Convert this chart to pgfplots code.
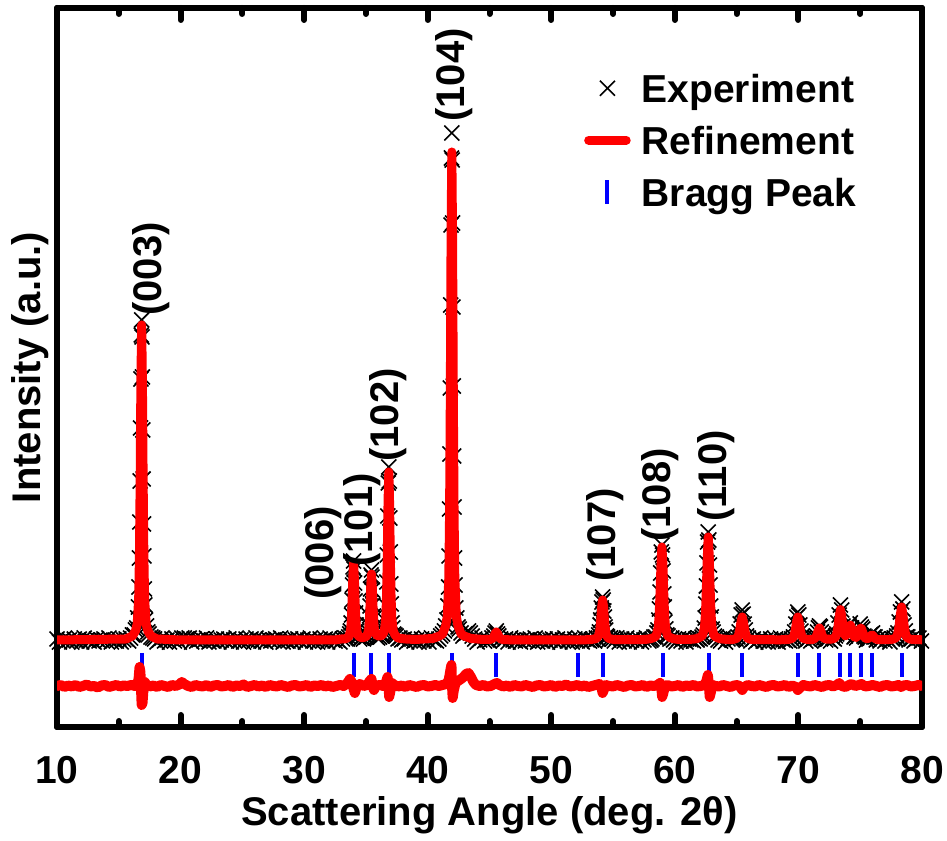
\documentclass[border=0pt]{standalone}
\usepackage{pgfplots}
\pgfplotsset{compat=1.18}
\usepackage{fontspec}
\setmainfont{Liberation Sans}
\newcommand{\lblfont}{\fontsize{20}{24}\selectfont\bfseries}
\newcommand{\tckfont}{\fontsize{19.5}{23}\selectfont\bfseries}
\pgfplotsset{
  markleg/.style={legend image code/.code={\draw[mark repeat=2,mark phase=2,##1] plot coordinates {(0cm,0cm) (0.33cm,0cm) (0.66cm,0cm)};}},
  lineleg/.style={legend image code/.code={\draw[##1] (0cm,0cm) -- (0.66cm,0cm);}},
}
\begin{document}
\begin{tikzpicture}
\begin{axis}[
  scale only axis,
  width=432.5pt, height=359.5pt,
  xmin=10, xmax=80, ymin=0, ymax=719,
  clip mode=individual,
  axis line style={line width=3pt, line cap=round, line join=round},
  xtick={10,20,...,80}, minor x tick num=1,
  ytick=\empty,
  tick align=inside, xtick pos=both,
  major tick length=6pt, minor tick length=3pt,
  every tick/.style={black, line width=3pt, line cap=round},
  /pgf/number format/assume math mode=true,
  xticklabel style={font=\tckfont, yshift=-11pt},
  xlabel={Scattering Angle (deg. 2θ)},
  ylabel={Intensity (a.u.)},
  xlabel style={font=\lblfont, at={(axis description cs:0.5,-0.1224)}, anchor=center},
  ylabel style={font=\lblfont, at={(axis description cs:-0.031,0.5)}, anchor=center},
  legend cell align=left,
  legend style={at={(0.928,0.925)}, anchor=north east, draw=none, fill=none,
    inner sep=0pt, row sep=0pt, font=\tckfont, nodes={inner xsep=1.5pt, inner ysep=4.2pt},
    /tikz/every odd column/.append style={column sep=4pt}},
]
% experiment
\addplot[only marks, mark=x, mark size=5.3pt, black, line width=0.8pt, markleg]
coordinates {
(10.0,88)(10.2,85)(10.4,87)(10.6,89)(10.8,86)(11.0,87)(11.2,85)(11.4,88)(11.6,86)(11.8,88)
(12.0,85)(12.2,89)(12.4,87)(12.6,86)(12.8,87)(13.0,85)(13.2,88)(13.4,86)(13.6,87)(13.8,88)
(14.0,86)(14.2,89)(14.4,85)(14.6,87)(14.8,86)(15.0,88)(15.2,85)(15.4,87)(15.6,88)(15.8,86)
(15.95,89)(16.10,92)(16.25,92)(16.35,97)(16.45,99)(16.53,109)(16.59,120)(16.63,140)(16.67,169)
(16.70,205)(16.73,246)(16.76,299)(16.79,348)(16.82,392)(16.85,407)(16.88,390)(16.91,350)
(16.94,297)(16.97,248)(17.00,203)(17.03,171)(17.07,138)(17.11,122)(17.17,107)(17.25,101)
(17.35,95)(17.45,93)(17.60,90)(17.75,89)
(17.9,88)(18.1,85)(18.3,87)(18.5,89)(18.7,86)(18.9,87)(19.1,85)(19.3,88)(19.5,86)(19.7,88)
(19.9,85)(20.1,89)(20.3,89)(20.5,88)(20.7,89)(20.9,85)(21.1,88)(21.3,86)(21.5,87)(21.7,88)
(21.9,86)(22.1,89)(22.3,85)(22.5,87)(22.7,86)(22.9,88)(23.1,85)(23.3,87)(23.5,88)(23.7,86)
(23.9,88)(24.1,85)(24.3,87)(24.5,89)(24.7,86)(24.9,87)(25.1,85)(25.3,88)(25.5,86)(25.7,88)
(25.9,85)(26.1,89)(26.3,87)(26.5,86)(26.7,87)(26.9,85)(27.1,88)(27.3,86)(27.5,87)(27.7,88)
(27.9,86)(28.1,89)(28.3,85)(28.5,87)(28.7,86)(28.9,88)(29.1,85)(29.3,87)(29.5,88)(29.7,86)
(29.9,88)(30.1,85)(30.3,87)(30.5,89)(30.7,86)(30.9,87)(31.1,85)(31.3,88)(31.5,86)(31.7,88)
(31.9,85)(32.1,89)(32.3,87)(32.5,86)(32.7,87)(32.9,85)
(33.10,88)(33.30,89)(33.50,88)(33.60,90)(33.68,93)(33.74,96)(33.80,104)(33.84,112)(33.88,127)
(33.92,142)(33.96,160)(34.00,166)(34.04,158)(34.08,144)(34.12,126)(34.16,114)(34.20,102)
(34.26,96)(34.32,91)(34.40,91)(34.50,88)(34.65,89)(34.80,88)(34.95,90)(35.05,90)(35.13,92)
(35.19,95)(35.25,102)(35.29,111)(35.33,121)(35.37,138)(35.41,152)(35.45,157)(35.49,150)
(35.53,137)(35.57,122)(35.61,111)(35.65,100)(35.71,95)(35.77,92)(35.85,90)(35.95,89)
(36.10,90)(36.25,91)(36.35,92)(36.45,95)(36.53,97)(36.59,106)(36.65,121)(36.69,145)
(36.73,172)(36.77,211)(36.81,244)(36.85,260)(36.89,246)(36.93,209)(36.97,175)(37.01,143)
(37.05,123)(37.11,104)(37.17,99)(37.25,93)(37.35,92)(37.45,91)(37.60,88)(37.75,89)(37.90,87)
(38.1,88)(38.3,85)(38.5,87)(38.7,89)(38.9,86)(39.1,87)(39.3,85)(39.5,88)(39.7,86)(39.9,88)
(40.1,85)(40.3,89)(40.5,87)(40.7,86)(40.9,88)
(41.05,91)(41.20,93)(41.35,96)(41.45,101)(41.55,107)(41.63,121)(41.69,140)(41.73,171)
(41.77,218)(41.80,273)(41.83,339)(41.86,422)(41.89,502)(41.92,569)(41.95,594)(41.98,567)
(42.01,504)(42.04,420)(42.07,341)(42.10,271)(42.13,220)(42.17,169)(42.21,142)(42.27,119)
(42.35,109)(42.45,100)(42.55,98)(42.70,94)(42.85,91)
(43.00,93)(43.15,94)(43.30,96)(43.45,94)(43.60,91)
(43.8,88)(44.0,85)(44.2,87)(44.4,89)(44.6,86)(44.8,87)(45.0,86)(45.2,89)(45.35,91)(45.45,94)
(45.55,96)(45.65,93)(45.75,91)(45.9,88)(46.1,86)(46.3,88)(46.5,85)(46.7,89)(46.9,87)(47.1,86)
(47.3,87)(47.5,85)(47.7,88)(47.9,86)(48.1,87)(48.3,88)(48.5,86)(48.7,89)(48.9,85)(49.1,87)
(49.3,86)(49.5,88)(49.7,85)(49.9,87)(50.1,88)(50.3,86)(50.5,88)(50.7,85)(50.9,87)(51.1,89)
(51.3,86)(51.5,87)(51.7,85)(51.9,88)(52.1,86)(52.3,88)(52.5,85)(52.7,89)(52.9,87)(53.1,86)
(53.25,87)
(53.35,88)(53.50,86)(53.65,89)(53.75,88)(53.83,92)(53.90,95)(53.95,102)(54.00,107)(54.05,119)
(54.10,125)(54.15,130)(54.20,127)(54.25,116)(54.30,110)(54.35,100)(54.40,97)(54.47,91)
(54.55,90)(54.65,87)(54.80,89)(54.95,88)
(55.1,86)(55.3,89)(55.5,85)(55.7,88)(55.9,86)(56.1,89)(56.3,85)(56.5,87)(56.7,88)(56.9,86)
(57.1,88)(57.3,85)(57.5,87)(57.7,89)(57.9,86)(58.05,87)
(58.15,88)(58.30,90)(58.45,90)(58.55,94)(58.63,97)(58.70,107)(58.75,118)(58.80,135)(58.85,154)
(58.90,175)(58.95,182)(59.00,172)(59.05,156)(59.10,133)(59.15,120)(59.20,105)(59.27,98)
(59.35,92)(59.45,91)(59.60,88)(59.75,89)
(59.9,87)(60.1,85)(60.3,88)(60.5,86)(60.7,89)(60.9,85)(61.1,88)(61.3,87)(61.5,86)(61.7,88)(61.8,87)
(61.90,89)(62.05,88)(62.20,90)(62.30,92)(62.38,99)(62.45,109)(62.50,123)(62.55,141)(62.60,164)
(62.65,185)(62.70,195)(62.75,187)(62.80,162)(62.85,142)(62.90,121)(62.95,110)(63.02,98)
(63.10,95)(63.20,91)(63.35,90)(63.50,87)
(63.7,86)(63.9,89)(64.1,85)(64.3,88)(64.5,89)(64.65,87)(64.75,88)
(64.95,88)(65.10,90)(65.20,95)(65.29,103)(65.37,112)(65.45,117)(65.53,113)(65.61,103)
(65.70,97)(65.80,91)(65.95,89)(66.15,86)
(66.35,88)(66.55,85)(66.75,87)(66.95,89)(67.15,86)(67.35,87)(67.55,85)(67.75,88)(67.95,86)
(68.15,88)(68.35,85)(68.55,89)(68.75,87)(68.95,86)(69.15,87)(69.3,86)
(69.45,88)(69.60,90)(69.70,95)(69.79,103)(69.87,110)(69.95,115)(70.03,112)(70.11,102)
(70.20,96)(70.30,91)(70.45,89)(70.60,86)
(70.8,88)(71.0,86)(71.2,88)(71.35,89)
(71.45,91)(71.55,95)(71.62,99)(71.70,101)(71.78,100)(71.85,95)(71.95,91)(72.05,89)(72.20,87)(72.40,88)
(72.6,86)(72.8,89)(72.9,88)(73.0,91)(73.1,93)(73.2,104)(73.3,112)(73.4,122)(73.5,117)(73.6,101)
(73.7,96)(73.8,91)(73.9,94)(74.0,94)(74.1,102)(74.2,104)(74.3,99)(74.4,96)(74.5,90)(74.6,91)
(74.7,89)(74.8,94)(74.9,95)(75.0,103)(75.1,100)(75.2,98)(75.3,91)(75.4,90)(75.5,87)(75.6,89)
(75.7,88)(75.8,92)(75.9,93)(76.0,94)(76.1,90)(76.2,90)(76.3,87)(76.4,88)
(76.6,86)(76.8,89)(77.0,86)(77.2,88)(77.4,85)(77.6,88)
(77.75,89)(77.85,88)(77.95,91)(78.05,94)(78.15,105)(78.25,115)(78.35,125)(78.45,118)(78.55,102)
(78.65,96)(78.75,90)(78.85,90)(78.95,87)
(79.15,88)(79.35,86)(79.55,88)(79.75,89)(79.95,86)
};
\addlegendentry{\strut Experiment}
% refinement
\addplot[red, line width=4.5pt, line join=round, line cap=round, mark=none, lineleg]
coordinates {
(10,87)(15.6,88)(15.85,89.5)(16.10,91)(16.35,96)(16.49,103)(16.61,128)(16.67,169)(16.73,245)
(16.79,345)(16.85,402)(16.91,345)(16.97,245)(17.03,169)(17.09,128)(17.21,103)(17.35,96)
(17.60,91)(17.85,89.5)(18.1,88)(20,87)(32.5,87)
(33.0,88)(33.25,88)(33.5,89)(33.64,91)(33.76,97)(33.82,107)(33.88,126)(33.94,150)(34.00,164)
(34.06,150)(34.12,126)(34.18,108)(34.24,97)(34.36,91.5)(34.5,90)(34.7,89.3)(34.95,90)
(35.09,91.5)(35.21,96.5)(35.27,105)(35.33,120.5)(35.39,141)(35.45,153)(35.51,141)(35.57,121)
(35.63,105.5)(35.69,97)(35.81,93)(35.95,91)(36.2,91)(36.35,92.5)(36.49,96)(36.61,109)
(36.67,131)(36.73,171)(36.79,225)(36.85,255)(36.91,225)(36.97,171)(37.03,131)(37.09,109)
(37.21,96)(37.35,92)(37.6,89)(37.85,88.5)(38.2,88)(39,87.5)(40.4,88.5)
(40.95,91)(41.2,93)(41.45,101)(41.59,111)(41.71,150)(41.77,214)(41.83,331)(41.89,487)(41.95,575)
(42.01,487)(42.07,331)(42.13,214)(42.19,150)(42.31,111)(42.45,101)(42.7,93)(42.95,91)
(43.5,88.5)(44.5,87.5)(45.05,87.5)(45.25,88.6)(45.35,90.5)(45.45,93.2)(45.55,95)(45.65,93.2)
(45.75,90.5)(45.85,88.6)(46.05,87.5)(47,87)(52.5,87)
(52.9,87.3)(53.21,87.5)(53.53,88.1)(53.70,89)(53.85,92.2)(53.93,97.4)(54.00,107)(54.08,120)
(54.15,127)(54.23,120)(54.30,107)(54.38,97.4)(54.45,92.2)(54.60,89)(54.77,88.1)(55.09,87.5)
(55.4,87.3)(57.5,87.5)
(57.7,87.7)(58.01,88.2)(58.33,89.6)(58.5,91.6)(58.65,99)(58.73,111)(58.80,133.5)(58.88,163)
(58.95,180)(59.03,163)(59.10,133.5)(59.17,111)(59.25,99)(59.40,91.6)(59.57,89.6)(59.89,88.2)
(60.2,87.7)(61.0,87.5)
(61.45,87.8)(61.76,88.3)(62.08,90)(62.25,92)(62.40,100)(62.48,114)(62.55,138.5)(62.63,171)
(62.70,190)(62.78,171)(62.85,138.5)(62.92,114)(63.00,100)(63.15,92)(63.32,90)(63.64,88.3)
(63.95,87.8)
(64.45,87.4)(64.75,87.7)(64.95,88.4)(65.05,89.3)(65.15,91.7)(65.25,97)(65.35,105)(65.45,110)
(65.55,105)(65.65,97)(65.75,91.7)(65.85,89.3)(65.95,88.4)(66.15,87.7)(66.45,87.4)(68.5,87.2)
(68.95,87.4)(69.25,87.7)(69.45,88.4)(69.55,89.3)(69.65,91.7)(69.75,97)(69.85,105)(69.95,110)
(70.05,105)(70.15,97)(70.25,91.7)(70.35,89.3)(70.45,88.4)(70.65,87.7)(70.95,87.4)
(71.2,87.7)(71.4,89.5)(71.5,92.3)(71.6,96.4)(71.7,99)(71.8,96.4)(71.9,92.3)(72.0,89.5)(72.2,88)
(72.6,87.7)(72.8,88.3)(72.9,88.8)(73.0,90)(73.1,93.2)(73.2,100.2)(73.3,110.4)(73.4,117.4)
(73.5,110.8)(73.6,100.8)(73.7,94)(73.8,91.3)(73.9,92.5)(74.0,94.4)(74.1,99)(74.2,101.8)
(74.3,98.7)(74.4,93.6)(74.5,90.5)(74.6,89.5)(74.7,89.8)(74.8,91.4)(74.9,94.6)(75.0,98.3)
(75.05,99)(75.1,98.3)(75.2,94.7)(75.3,91)(75.4,89.2)(75.5,88.5)(75.6,88.4)(75.7,89)(75.8,90.3)
(75.9,91.7)(75.95,92)(76.0,91.7)(76.1,90.1)(76.2,88.6)(76.3,87.8)(76.5,87.3)
(77.35,87.5)(77.65,87.8)(77.85,89)(77.95,90.3)(78.05,93.8)(78.15,101.5)(78.25,112.7)(78.35,120)
(78.45,112.7)(78.55,101.5)(78.65,93.8)(78.75,90.3)(78.85,89)(79.05,87.8)(79.35,87.5)(80,87.2)
};
\addlegendentry{\strut Refinement}
% Bragg positions
\addplot[only marks, mark=|, mark size=6pt, blue, line width=2pt, markleg]
coordinates {
(16.85,62)(34.0,62)(35.45,62)(36.85,62)(41.95,62)(45.55,62)(52.15,62)(54.15,62)(59.0,62)
(62.75,62)(65.45,62)(69.95,62)(71.7,62)(73.4,62)(74.2,62)(75.05,62)(75.95,62)(78.35,62)
};
\addlegendentry{\strut Bragg Peak}
% difference
\addplot[red, line width=5pt, line join=round, line cap=round, mark=none, forget plot]
coordinates {
(10.0,41)(10.3,42)(10.6,40)(10.9,41.5)(11.2,40.5)(11.5,42)(11.8,40)(12.1,41)(12.4,42.5)(12.7,40.5)
(13.0,41)(13.3,39.5)(13.6,41.5)(13.9,42)(14.2,40)(14.5,41)(14.8,42)(15.1,40.5)(15.4,41.5)(15.7,41)
(16.0,42)(16.3,41)(16.5,43)(16.6,48)(16.68,60)(16.75,55)(16.8,38)(16.85,22)(16.92,24)(17.0,38)
(17.1,45)(17.25,42)(17.5,40.5)(17.8,41.5)(18.1,40)(18.4,42)(18.7,41)(19.0,40)(19.3,42)(19.6,41)
(19.9,42.5)(20.1,45)(20.3,43)(20.6,41)(20.9,40)(21.2,42)(21.5,41)(21.8,40.5)(22.1,42)(22.4,40)
(22.7,41.5)(23.0,42)(23.3,40.5)(23.6,41)(23.9,42)(24.2,40)(24.5,41.5)(24.8,41)(25.1,42.5)(25.4,40)
(25.7,41)(26.0,42)(26.3,40.5)(26.6,41.5)(26.9,40)(27.2,42)(27.5,41)(27.8,40.5)(28.1,42)(28.4,41)
(28.7,40)(29.0,41.5)(29.3,42)(29.6,40.5)(29.9,41)(30.2,42)(30.5,40)(30.8,41.5)(31.1,41)(31.4,42)
(31.7,40.5)(32.0,41.5)(32.3,40)(32.6,41)(32.9,42)(33.2,41)(33.5,44)(33.7,48)(33.85,45)(34.0,38)
(34.1,34)(34.25,40)(34.5,43)(34.8,41)(35.1,42)(35.3,46)(35.45,48)(35.55,40)(35.65,37)(35.8,41)
(36.1,42)(36.4,41)(36.6,44)(36.75,50)(36.82,44)(36.88,30)(36.95,34)(37.1,44)(37.3,42)(37.6,40.5)
(37.9,41.5)(38.2,40)(38.5,42)(38.8,41)(39.1,40)(39.4,41.5)(39.7,42)(40.0,40.5)(40.3,41)(40.6,42)
(40.9,41)(41.2,42)(41.5,43)(41.7,47)(41.85,58)(41.92,62)(41.97,40)(42.02,29)(42.1,36)(42.25,44)
(42.45,46)(42.7,48)(42.9,50)(43.1,53)(43.3,54)(43.5,50)(43.7,45)(43.9,42)(44.2,41)(44.5,42)
(44.8,40.5)(45.1,41)(45.4,43)(45.6,44)(45.8,42)(46.1,40.5)(46.4,41.5)(46.7,40)(47.0,42)(47.3,41)
(47.6,40.5)(47.9,42)(48.2,41)(48.5,40)(48.8,41.5)(49.1,42)(49.4,40.5)(49.7,41)(50.0,42)(50.3,40)
(50.6,41.5)(50.9,41)(51.2,42.5)(51.5,40.5)(51.8,41)(52.1,42)(52.4,40.5)(52.7,41.5)(53.0,40)(53.3,41)
(53.6,42)(53.9,43)(54.05,40)(54.15,34)(54.25,37)(54.4,42)(54.7,41)(55.0,40.5)(55.3,42)(55.6,41)
(55.9,40)(56.2,41.5)(56.5,42)(56.8,40.5)(57.1,41)(57.4,42)(57.7,40)(58.0,41.5)(58.3,41)(58.6,42)
(58.8,44)(58.9,40)(58.97,30)(59.05,33)(59.2,41)(59.4,42)(59.7,40.5)(60.0,41)(60.3,42)(60.6,40)
(60.9,41.5)(61.2,41)(61.5,42)(61.8,40.5)(62.1,41)(62.4,42)(62.55,46)(62.67,52)(62.75,42)(62.82,30)
(62.9,34)(63.05,42)(63.3,41)(63.6,40.5)(63.9,42)(64.2,41)(64.5,40)(64.8,41.5)(65.1,42)(65.3,40)
(65.45,37)(65.6,40)(65.9,42)(66.2,41)(66.5,40.5)(66.8,42)(67.1,41)(67.4,40)(67.7,41.5)(68.0,42)
(68.3,40.5)(68.6,41)(68.9,42)(69.2,40)(69.5,41.5)(69.8,40)(69.95,37)(70.1,39)(70.4,42)(70.7,41)
(71.0,40.5)(71.3,42)(71.6,41)(71.9,40)(72.2,41.5)(72.5,42)(72.8,40.5)(73.1,42)(73.3,44)(73.5,41)
(73.8,40)(74.1,42)(74.3,43)(74.6,41)(74.9,42)(75.1,43)(75.4,40.5)(75.7,41)(76.0,42)(76.3,41)
(76.6,40)(76.9,41.5)(77.2,42)(77.5,40.5)(77.8,41)(78.1,42)(78.3,40)(78.5,41.5)(78.8,42)(79.1,40.5)
(79.4,41)(79.7,42)(80.0,41)
};
% peak labels
\begin{scope}[every node/.style={rotate=90, anchor=west, inner sep=0pt, font=\lblfont}]
\node at (axis cs:17.61,411) {(003)};
\node at (axis cs:31.53,127) {(006)};
\node at (axis cs:34.68,160) {(101)};
\node at (axis cs:36.79,265) {(102)};
\node at (axis cs:42.13,605) {(104)};
\node at (axis cs:54.35,145) {(107)};
\node at (axis cs:58.80,185) {(108)};
\node at (axis cs:63.33,205) {(110)};
\end{scope}
\coordinate (bbsw) at (rel axis cs:-0.0659,-0.1572);
\coordinate (bbne) at (rel axis cs:1.0289,1.0111);
\end{axis}
\pgfresetboundingbox
\path[use as bounding box] (bbsw) rectangle (bbne);
\end{tikzpicture}
\end{document}
